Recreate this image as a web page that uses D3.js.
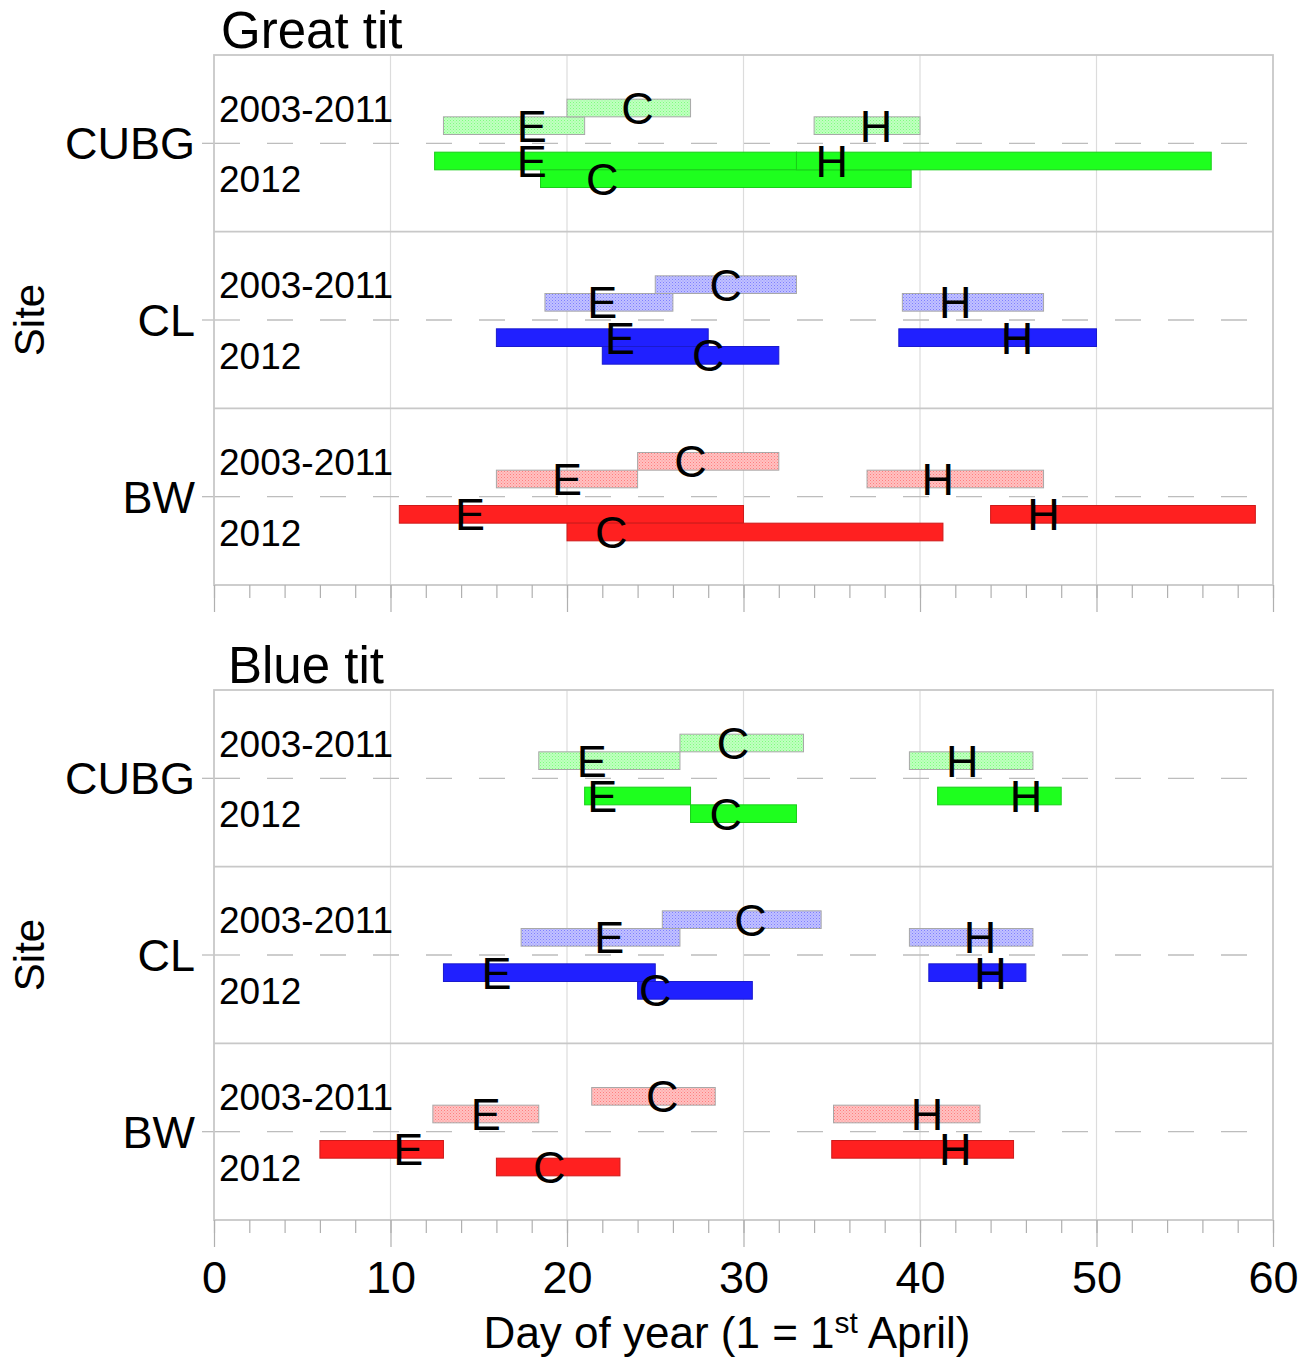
<!DOCTYPE html>
<html>
<head>
<meta charset="utf-8">
<script src="https://cdn.jsdelivr.net/npm/d3@7"></script>
<style>
  body{ margin:0; background:#fff; }
  text{ font-family:"Liberation Sans", Arial, sans-serif; fill:#000; }
</style>
</head>
<body>
<div class="chart"></div>
<script>
//Rows, stages and periods
var sites = ["CUBG", "CL", "BW"];
var stages = ["E", "C", "H"];
var periods = ["2003-2011", "2012"];
var siteColors = ["#1eff1e", "#2020ff", "#ff2020"];
var xTicks = [0, 10, 20, 30, 40, 50, 60];

//Great tit: one row per site, columns are E, C, H (days, 1 = 1st April)
var gtStart2003 = [[13, 20, 34], [18.75, 25, 39], [16, 24, 37]];
var gtEnd2003   = [[21, 27, 40], [26, 33, 47], [24, 32, 47]];
var gtMark2003  = [[18, 24, 37.5], [22, 29, 42], [20, 27, 41]];
var gtStart2012 = [[12.5, 18.5, 33], [16, 22, 38.8], [10.5, 20, 44]];
var gtEnd2012   = [[33, 39.5, 56.5], [28, 32, 50], [30, 41.3, 59]];
var gtMark2012  = [[18, 22, 35], [23, 28, 45.5], [14.5, 22.5, 47]];

//Blue tit
var btStart2003 = [[18.4, 26.4, 39.4], [17.4, 25.4, 39.4], [12.4, 21.4, 35.1]];
var btEnd2003   = [[26.4, 33.4, 46.4], [26.4, 34.4, 46.4], [18.4, 28.4, 43.4]];
var btMark2003  = [[21.4, 29.4, 42.4], [22.4, 30.4, 43.4], [15.4, 25.4, 40.4]];
var btStart2012 = [[21, 27, 41], [13, 24, 40.5], [6, 16, 35]];
var btEnd2012   = [[27, 33, 48], [25, 30.5, 46], [13, 23, 45.3]];
var btMark2012  = [[22, 29, 46], [16, 25, 44], [11, 19, 42]];

var w = 1312;
var h = 1360;
var left = 214, right = 1273;
var panelH = 530;

var svg = d3.select(".chart")
            .append("svg")
            .attr("width", w)
            .attr("height", h);

var x = d3.scaleLinear()
          .domain([0, 60])
          .range([left, right]);

//Dotted fill for the 2003-2011 bars
var defs = svg.append("defs");
siteColors.forEach(function(c, i){
  var p = defs.append("pattern")
              .attr("id", "dots" + i)
              .attr("width", 3)
              .attr("height", 3)
              .attr("patternUnits", "userSpaceOnUse");
  p.append("rect").attr("width", 3).attr("height", 3)
   .attr("fill", d3.interpolateRgb(c, "#fff")(0.72));
  p.append("rect").attr("width", 1).attr("height", 1)
   .attr("fill", d3.interpolateRgb(c, "#fff")(0.42));
  p.append("rect").attr("x", 1.5).attr("y", 1.5).attr("width", 1).attr("height", 1)
   .attr("fill", d3.interpolateRgb(c, "#fff")(0.52));
});

//Build the bar list for one species
function makeBars(starts, ends, marks){
  var bars = [];
  sites.forEach(function(s, si){
    periods.forEach(function(p, pi){
      stages.forEach(function(st, ki){
        bars.push({
          site: si, period: pi, stage: st,
          start: starts[pi][si][ki],
          end: ends[pi][si][ki],
          mark: marks[pi][si][ki]
        });
      });
    });
  });
  return bars;
}

//Lane position inside a row, in tenths of a row
function laneTop(d){
  if(d.period == 0) return d.stage == "C" ? 2.5 : 3.5;
  return d.stage == "C" ? 6.5 : 5.5;
}

function drawPanel(top, title, titleX, bars, showLabels){
  var y = d3.scaleLinear()
            .domain([0, 30])
            .range([top, top + panelH]);
  var g = svg.append("g");

  //Vertical grid
  g.selectAll(".grid")
   .data(xTicks.slice(1, -1))
   .enter()
   .append("line")
   .attr("x1", function(d){ return x(d); })
   .attr("x2", function(d){ return x(d); })
   .attr("y1", y(0))
   .attr("y2", y(30))
   .attr("stroke", "#dcdcdc")
   .attr("stroke-width", 1.2);

  //Dashed centre line per site plus the small y tick
  sites.forEach(function(s, i){
    var cy = y(i * 10 + 5);
    g.append("line")
     .attr("x1", x(0)).attr("x2", x(60))
     .attr("y1", cy).attr("y2", cy)
     .attr("stroke", "#bdbdbd")
     .attr("stroke-width", 1.3)
     .attr("stroke-dasharray", "26,27");
    g.append("line")
     .attr("x1", x(0) - 12).attr("x2", x(0))
     .attr("y1", cy).attr("y2", cy)
     .attr("stroke", "#bdbdbd")
     .attr("stroke-width", 1.3);

    g.append("text")
     .attr("x", 195)
     .attr("y", cy + 16)
     .attr("text-anchor", "end")
     .style("font-size", "45px")
     .text(s);

    g.append("text")
     .attr("x", 219)
     .attr("y", y(i * 10 + 3) + 13.5)
     .style("font-size", "37px")
     .text(periods[0]);

    g.append("text")
     .attr("x", 219)
     .attr("y", y(i * 10 + 7) + 13.5)
     .style("font-size", "37px")
     .text(periods[1]);
  });

  //Frame and row separators
  g.append("rect")
   .attr("x", x(0)).attr("y", y(0))
   .attr("width", x(60) - x(0))
   .attr("height", y(30) - y(0))
   .attr("fill", "none")
   .attr("stroke", "#c8c8c8")
   .attr("stroke-width", 1.8);
  [10, 20].forEach(function(u){
    g.append("line")
     .attr("x1", x(0)).attr("x2", x(60))
     .attr("y1", y(u)).attr("y2", y(u))
     .attr("stroke", "#c8c8c8")
     .attr("stroke-width", 1.8);
  });

  //Bars
  g.selectAll(".bar")
   .data(bars)
   .enter()
   .append("rect")
   .attr("class", "bar")
   .attr("x", function(d){ return x(d.start); })
   .attr("y", function(d){ return y(d.site * 10 + laneTop(d)); })
   .attr("width", function(d){ return x(d.end) - x(d.start); })
   .attr("height", function(d){ return y(1) - y(0); })
   .attr("fill", function(d){
     return d.period == 0 ? "url(#dots" + d.site + ")" : siteColors[d.site];
   })
   .attr("stroke", function(d){
     return d.period == 0 ? "#a8a8a8" : d3.color(siteColors[d.site]).darker(0.6);
   })
   .attr("stroke-width", 1);

  //Stage letters
  g.selectAll(".mark")
   .data(bars)
   .enter()
   .append("text")
   .attr("x", function(d){ return x(d.mark); })
   .attr("y", function(d){ return y(d.site * 10 + laneTop(d) + 0.5) + 16; })
   .attr("text-anchor", "middle")
   .style("font-size", "45px")
   .text(function(d){ return d.stage; });

  //Axis ticks under the panel
  var minor = d3.axisBottom(x)
                .tickValues(d3.range(0, 61, 2))
                .tickSize(13)
                .tickFormat("");
  var major = d3.axisBottom(x)
                .tickValues(xTicks)
                .tickSize(27)
                .tickPadding(14)
                .tickFormat(showLabels ? d3.format("d") : "");

  var a1 = g.append("g").attr("transform", "translate(0," + y(30) + ")").call(minor);
  var a2 = g.append("g").attr("transform", "translate(0," + y(30) + ")").call(major);
  [a1, a2].forEach(function(a){
    a.select(".domain").remove();
    a.selectAll("line").attr("stroke", "#b0b0b0").attr("stroke-width", 1.2);
    a.selectAll("text")
     .style("font-size", "45px")
     .style("font-family", "'Liberation Sans', Arial, sans-serif")
     .attr("fill", "#000");
  });

  //Title
  g.append("text")
   .attr("x", titleX)
   .attr("y", top - 7)
   .style("font-size", "51px")
   .text(title);

  //Y label
  g.append("text")
   .attr("transform", "translate(44," + y(15) + ") rotate(-90)")
   .attr("text-anchor", "middle")
   .style("font-size", "42px")
   .text("Site");
}

drawPanel(55, "Great tit", 221,
          makeBars([gtStart2003, gtStart2012], [gtEnd2003, gtEnd2012], [gtMark2003, gtMark2012]),
          false);
drawPanel(690, "Blue tit", 228,
          makeBars([btStart2003, btStart2012], [btEnd2003, btEnd2012], [btMark2003, btMark2012]),
          true);

//X axis title with the superscript
var xt = svg.append("text")
            .attr("x", 727)
            .attr("y", 1348)
            .attr("text-anchor", "middle")
            .style("font-size", "44px");
xt.append("tspan").text("Day of year (1 = 1");
xt.append("tspan").attr("dy", -15).style("font-size", "30px").text("st");
xt.append("tspan").attr("dy", 15).text(" April)");
</script>
</body>
</html>
